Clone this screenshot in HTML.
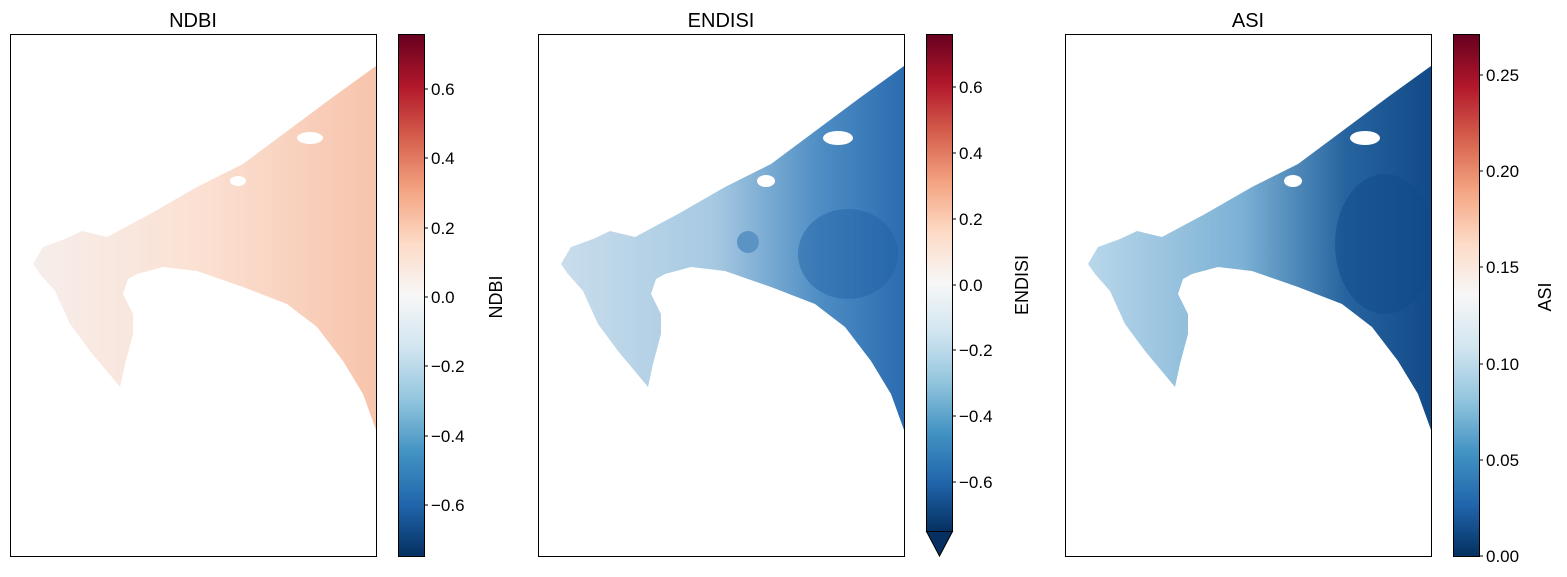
<!DOCTYPE html>
<html><head><meta charset="utf-8"><style>
html,body{margin:0;padding:0;background:#fff;}
svg{display:block;font-family:"Liberation Sans","DejaVu Sans",sans-serif;}
</style></head><body>
<svg width="1567" height="577" viewBox="0 0 1567 577" xmlns="http://www.w3.org/2000/svg">
<defs>
<linearGradient id="rdbu" x1="0" y1="1" x2="0" y2="0">
<stop offset="0" stop-color="#053061"/><stop offset="0.1" stop-color="#2166ac"/><stop offset="0.2" stop-color="#4393c3"/><stop offset="0.3" stop-color="#92c5de"/><stop offset="0.4" stop-color="#d1e5f0"/><stop offset="0.5" stop-color="#f7f7f7"/><stop offset="0.6" stop-color="#fddbc7"/><stop offset="0.7" stop-color="#f4a582"/><stop offset="0.8" stop-color="#d6604d"/><stop offset="0.9" stop-color="#b2182b"/><stop offset="1" stop-color="#67001f"/>
</linearGradient>
<linearGradient id="g1" x1="0" y1="0" x2="1" y2="0"><stop offset="0" stop-color="#f6eeeb"/><stop offset="0.5" stop-color="#fbe0d2"/><stop offset="1" stop-color="#f7c4ac"/></linearGradient>
<linearGradient id="g2" x1="0" y1="0" x2="1" y2="0"><stop offset="0" stop-color="#c9ddec"/><stop offset="0.45" stop-color="#a6c9e2"/><stop offset="0.75" stop-color="#4f8ec4"/><stop offset="1" stop-color="#2b6cb0"/></linearGradient>
<linearGradient id="g3" x1="0" y1="0" x2="1" y2="0"><stop offset="0" stop-color="#b9d7ea"/><stop offset="0.45" stop-color="#7cb1d5"/><stop offset="0.75" stop-color="#26649f"/><stop offset="1" stop-color="#134a88"/></linearGradient>
<path id="land" d="M366,32 L323,63 L233,130 L187,153 L140,180 L97,203 L72,197 L55,205 L33,213 L23,230 L30,240 L45,257 L60,290 L80,317 L95,335 L110,353 L115,330 L123,300 L123,280 L113,260 L118,245 L127,240 L153,233 L187,237 L233,253 L277,270 L307,293 L333,327 L353,360 L366,396 Z"/>
<clipPath id="lc"><use href="#land"/></clipPath>
</defs>

<!-- Panel 1 -->
<g transform="translate(10,34)">
<use href="#land" fill="url(#g1)"/>
<ellipse cx="300" cy="104" rx="13" ry="6" fill="#fff"/>
<ellipse cx="228" cy="147" rx="8" ry="5" fill="#fff"/>
</g>
<rect x="10.5" y="34.5" width="366" height="522" fill="none" stroke="#000"/>
<text x="193" y="27" font-size="20" text-anchor="middle">NDBI</text>

<!-- Panel 2 -->
<g transform="translate(538,34)">
<use href="#land" fill="url(#g2)"/>
<g clip-path="url(#lc)">
<circle cx="210" cy="208" r="11" fill="#5a93c4"/>
<ellipse cx="310" cy="220" rx="50" ry="45" fill="#1f5fa3" opacity="0.45"/>
</g>
<ellipse cx="300" cy="104" rx="15" ry="7" fill="#fff"/>
<ellipse cx="228" cy="147" rx="9" ry="6" fill="#fff"/>
</g>
<rect x="538.5" y="34.5" width="366" height="522" fill="none" stroke="#000"/>
<text x="721" y="27" font-size="20" text-anchor="middle">ENDISI</text>

<!-- Panel 3 -->
<g transform="translate(1065,34)">
<use href="#land" fill="url(#g3)"/>
<g clip-path="url(#lc)">
<ellipse cx="320" cy="210" rx="50" ry="70" fill="#0f4a88" opacity="0.5"/>
</g>
<ellipse cx="300" cy="104" rx="15" ry="7" fill="#fff"/>
<ellipse cx="228" cy="147" rx="9" ry="6" fill="#fff"/>
</g>
<rect x="1065.5" y="34.5" width="366" height="522" fill="none" stroke="#000"/>
<text x="1248" y="27" font-size="20" text-anchor="middle">ASI</text>

<!-- Colorbar 1 -->
<rect x="398.5" y="34.5" width="26" height="522" fill="url(#rdbu)" stroke="#000"/>
<g font-size="17" fill="#000">
<g stroke="#000"><line x1="424" x2="428" y1="89" y2="89"/><line x1="424" x2="428" y1="158" y2="158"/><line x1="424" x2="428" y1="228" y2="228"/><line x1="424" x2="428" y1="297" y2="297"/><line x1="424" x2="428" y1="366" y2="366"/><line x1="424" x2="428" y1="436" y2="436"/><line x1="424" x2="428" y1="505" y2="505"/></g>
<text x="431" y="95">0.6</text><text x="431" y="164">0.4</text><text x="431" y="234">0.2</text><text x="431" y="303">0.0</text><text x="431" y="372">−0.2</text><text x="431" y="442">−0.4</text><text x="431" y="511">−0.6</text>
</g>
<text transform="translate(502,297) rotate(-90)" font-size="18" text-anchor="middle">NDBI</text>

<!-- Colorbar 2 -->
<rect x="926.5" y="34.5" width="26" height="497" fill="url(#rdbu)" stroke="#000"/>
<path d="M926.5,531.5 L952.5,531.5 L939.5,556 Z" fill="#053061" stroke="#000"/>
<g font-size="17" fill="#000">
<g stroke="#000"><line x1="952" x2="956" y1="87" y2="87"/><line x1="952" x2="956" y1="153" y2="153"/><line x1="952" x2="956" y1="219" y2="219"/><line x1="952" x2="956" y1="285" y2="285"/><line x1="952" x2="956" y1="350" y2="350"/><line x1="952" x2="956" y1="416" y2="416"/><line x1="952" x2="956" y1="482" y2="482"/></g>
<text x="959" y="93">0.6</text><text x="959" y="159">0.4</text><text x="959" y="225">0.2</text><text x="959" y="291">0.0</text><text x="959" y="356">−0.2</text><text x="959" y="422">−0.4</text><text x="959" y="488">−0.6</text>
</g>
<text transform="translate(1028,285) rotate(-90)" font-size="18" text-anchor="middle">ENDISI</text>

<!-- Colorbar 3 -->
<rect x="1453.5" y="34.5" width="26" height="522" fill="url(#rdbu)" stroke="#000"/>
<g font-size="17" fill="#000">
<g stroke="#000"><line x1="1479" x2="1483" y1="75" y2="75"/><line x1="1479" x2="1483" y1="171" y2="171"/><line x1="1479" x2="1483" y1="267" y2="267"/><line x1="1479" x2="1483" y1="364" y2="364"/><line x1="1479" x2="1483" y1="460" y2="460"/><line x1="1479" x2="1483" y1="556" y2="556"/></g>
<text x="1486" y="81">0.25</text><text x="1486" y="177">0.20</text><text x="1486" y="273">0.15</text><text x="1486" y="370">0.10</text><text x="1486" y="466">0.05</text><text x="1486" y="562">0.00</text>
</g>
<text transform="translate(1551,297) rotate(-90)" font-size="18" text-anchor="middle">ASI</text>
</svg>
</body></html>
